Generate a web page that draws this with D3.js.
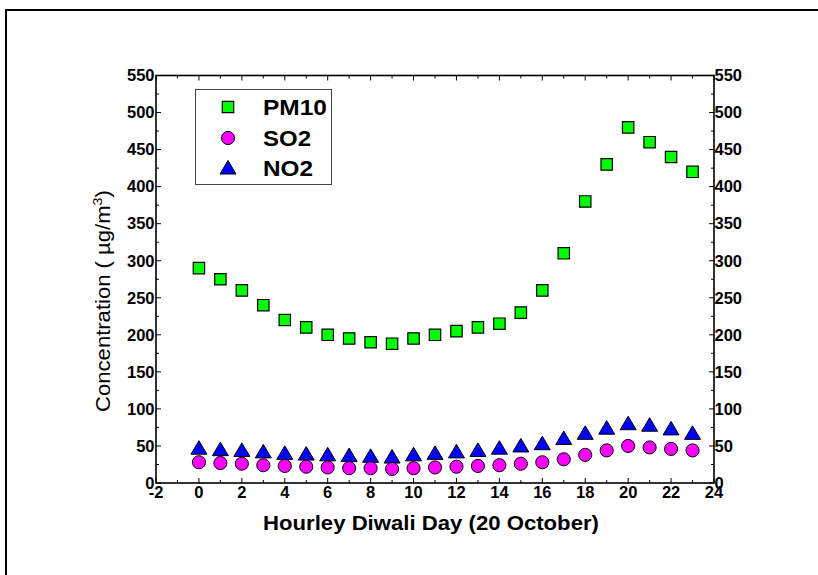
<!DOCTYPE html>
<html><head><meta charset="utf-8">
<script src="https://cdn.jsdelivr.net/npm/d3@7"></script>
<style>body{margin:0;background:#fff}svg{display:block}text{font-family:"Liberation Sans",Arial,sans-serif}</style>
</head><body>
<svg id="c" width="818" height="575"></svg>
<script>
const hours = [0,1,2,3,4,5,6,7,8,9,10,11,12,13,14,15,16,17,18,19,20,21,22,23];
const pm10 = [290,275,260,240,220,210,200,195,190,188,195,200,205,210,215,230,260,310,380,430,480,460,440,420];
const so2  = [28,27,26,24,23,22,21,20,20,19,20,21,22,23,24,26,28,32,38,44,50,48,46,44];
const no2  = [47,45,44,42,40,39,38,37,36,35,38,40,42,44,47,50,53,60,67,74,80,78,73,67];
const xTicks = [-2,0,2,4,6,8,10,12,14,16,18,20,22,24];
const yTicks = [0,50,100,150,200,250,300,350,400,450,500,550];
const seriesNames = ["PM10","SO2","NO2"];

const svg = d3.select("#c");
const L=156,R=714,T=75.5,B=483;
const x = d3.scaleLinear().domain([-2,24]).range([L,R]);
const y = d3.scaleLinear().domain([0,550]).range([B,T]);

// stretch a text horizontally (in its own frame) to a target length
function fit(sel, tx, ty, target, rot){
  const w = sel.node().getComputedTextLength();
  const s = target / w;
  sel.attr("transform", `translate(${tx},${ty})` + (rot?` rotate(${rot})`:"") + ` scale(${s},1)`);
}

svg.append("rect").attr("x",6).attr("y",10).attr("width",830).attr("height",620)
  .attr("fill","none").attr("stroke","#000").attr("stroke-width",2);

svg.append("rect").attr("x",L).attr("y",T).attr("width",R-L).attr("height",B-T)
  .attr("fill","none").attr("stroke","#000").attr("stroke-width",1.6);

const g = svg.append("g");
const xMinor = d3.range(-2,24.01,1);
const yMinor = d3.range(0,550.01,25);
xMinor.forEach(v=>{
  const len = (v%2===0)?5:3;
  g.append("line").attr("x1",x(v)).attr("x2",x(v)).attr("y1",B).attr("y2",B-len).attr("stroke","#000").attr("stroke-width",1);
  g.append("line").attr("x1",x(v)).attr("x2",x(v)).attr("y1",T).attr("y2",T+len).attr("stroke","#000").attr("stroke-width",1);
});
yMinor.forEach(v=>{
  const len = (v%50===0)?5:3;
  g.append("line").attr("x1",L).attr("x2",L+len).attr("y1",y(v)).attr("y2",y(v)).attr("stroke","#000").attr("stroke-width",1);
  g.append("line").attr("x1",R).attr("x2",R-len).attr("y1",y(v)).attr("y2",y(v)).attr("stroke","#000").attr("stroke-width",1);
});

xTicks.forEach(v=>{
  svg.append("text").attr("x",x(v)).attr("y",498).attr("text-anchor","middle")
    .attr("font-size",16.5).attr("font-weight","bold").text(v);
});
yTicks.forEach(v=>{
  svg.append("text").attr("x",L-1.5).attr("y",y(v)+5.8).attr("text-anchor","end")
    .attr("font-size",16.5).attr("font-weight","bold").text(v);
  svg.append("text").attr("x",R+0.5).attr("y",y(v)+5.8).attr("text-anchor","start")
    .attr("font-size",16.5).attr("font-weight","bold").text(v);
});

const xl = svg.append("text").attr("text-anchor","middle")
  .attr("font-size",19.5).attr("font-weight","bold")
  .text("Hourley Diwali Day (20 October)");
fit(xl, 431, 530, 336);
const yl = svg.append("text").attr("text-anchor","middle").attr("font-size",20);
yl.append("tspan").text("Concentration ( µg/m");
yl.append("tspan").attr("dy",-8).attr("font-size",13).text("3");
yl.append("tspan").attr("dy",8).text(")");
fit(yl, 110, 301, 222, -90);

const sq = d3.symbol().type(d3.symbolSquare).size(130);
const ci = d3.symbol().type(d3.symbolCircle).size(135);
const triPath = "M0,-7.5L8,6L-8,6Z";
const dataG = svg.append("g");
dataG.selectAll(".no2").data(hours).join("path").attr("d",triPath)
  .attr("transform",(d,i)=>`translate(${x(d)},${y(no2[i])})`)
  .attr("fill","#0000ff").attr("stroke","#000").attr("stroke-width",1);
dataG.selectAll(".so2").data(hours).join("path").attr("d",ci)
  .attr("transform",(d,i)=>`translate(${x(d)},${y(so2[i])})`)
  .attr("fill","#ff00ff").attr("stroke","#000").attr("stroke-width",1);
dataG.selectAll(".pm").data(hours).join("path").attr("d",sq)
  .attr("transform",(d,i)=>`translate(${x(d)},${y(pm10[i])})`)
  .attr("fill","#00ff00").attr("stroke","#000").attr("stroke-width",1.2);

const lg = svg.append("g");
lg.append("rect").attr("x",195.5).attr("y",89.5).attr("width",136).attr("height",95)
  .attr("fill","#fff").attr("stroke","#444").attr("stroke-width",1);
const ly = [107,138,168];
const lw = [64,48,50];
lg.append("path").attr("d",sq).attr("transform",`translate(228,${ly[0]})`).attr("fill","#00ff00").attr("stroke","#000").attr("stroke-width",1.2);
lg.append("path").attr("d",ci).attr("transform",`translate(228,${ly[1]})`).attr("fill","#ff00ff").attr("stroke","#000");
lg.append("path").attr("d",triPath).attr("transform",`translate(228,${ly[2]})`).attr("fill","#0000ff").attr("stroke","#000");
seriesNames.forEach((n,i)=>{
  const t = lg.append("text").attr("font-size",22).attr("font-weight","bold").text(n);
  fit(t, 263, ly[i]+8, lw[i]);
});
</script>
</body></html>
